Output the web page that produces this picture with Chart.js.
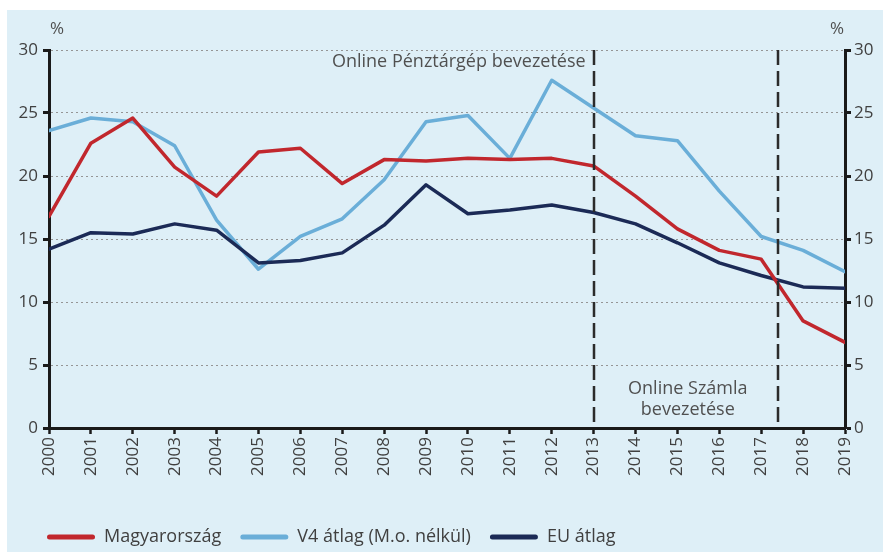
<!DOCTYPE html>
<html>
<head>
<meta charset="utf-8">
<script src="https://cdn.jsdelivr.net/npm/chart.js@4/dist/chart.umd.min.js"></script>
<style>
  html, body { margin: 0; padding: 0; background: #ffffff; }
  #panel { position: absolute; left: 7px; top: 10px; width: 876px; height: 542px; background: #deeff7; }
  #c { display: block; }
</style>
</head>
<body>
<div id="panel"><canvas id="c" width="876" height="542"></canvas></div>
<script>
const years = [2000,2001,2002,2003,2004,2005,2006,2007,2008,2009,2010,2011,2012,2013,2014,2015,2016,2017,2018,2019];
const magyarorszag = [16.8,22.6,24.6,20.7,18.4,21.9,22.2,19.4,21.3,21.2,21.4,21.3,21.4,20.8,18.4,15.8,14.1,13.4,8.5,6.8];
const v4Atlag = [23.6,24.6,24.3,22.4,16.5,12.6,15.2,16.6,19.7,24.3,24.8,21.4,27.6,25.4,23.2,22.8,18.8,15.2,14.1,12.4];
const euAtlag = [14.2,15.5,15.4,16.2,15.7,13.1,13.3,13.9,16.1,19.3,17.0,17.3,17.7,17.1,16.2,14.7,13.1,12.1,11.2,11.1];
const seriesNames = ['Magyarország','V4 átlag (M.o. nélkül)','EU átlag'];
const yTicks = [0,5,10,15,20,25,30];
const eventYears = [2013, 2017.4];
const eventLabels = ['Online Pénztárgép bevezetése', ['Online Számla', 'bevezetése']];

const colors = ['#c1272d', '#6aaed8', '#1b2a56'];
const toPts = arr => arr.map((v, i) => ({x: years[i], y: v}));

const legendShift = {
  id: 'legendShift',
  afterLayout(chart) {
    if (chart.legend) { chart.legend.left += 21; }
  }
};

const annot = {
  id: 'annot',
  afterDatasetsDraw(chart) {
    const {ctx, chartArea: a, scales: {x}} = chart;
    ctx.save();
    ctx.strokeStyle = '#2b2b2b';
    ctx.lineWidth = 2.5;
    ctx.setLineDash([15, 6]);
    eventYears.forEach(yr => {
      const px = Math.round(x.getPixelForValue(yr));
      ctx.beginPath();
      ctx.moveTo(px, a.top);
      ctx.lineTo(px, a.bottom);
      ctx.stroke();
    });
    ctx.setLineDash([]);
    ctx.fillStyle = '#505050';
    ctx.font = "18px 'Open Sans', sans-serif";
    ctx.textBaseline = 'middle';
    const x1 = x.getPixelForValue(eventYears[0]);
    const x2 = x.getPixelForValue(eventYears[1]);
    ctx.textAlign = 'right';
    ctx.fillText(eventLabels[0], x1 - 8, a.top + 12);
    ctx.textAlign = 'center';
    ctx.fillText(eventLabels[1][0], (x1 + x2) / 2 + 2, a.bottom - 39);
    ctx.fillText(eventLabels[1][1], (x1 + x2) / 2 + 2, a.bottom - 18);
    ctx.font = "17px 'Open Sans', sans-serif";
    ctx.fillText('%', a.left + 8, a.top - 21);
    ctx.fillText('%', a.right - 8, a.top - 21);
    ctx.restore();
  }
};

new Chart(document.getElementById('c'), {
  type: 'line',
  data: {
    datasets: [
      {label: seriesNames[0], data: toPts(magyarorszag), borderColor: colors[0], backgroundColor: colors[0], order: 1},
      {label: seriesNames[1], data: toPts(v4Atlag), borderColor: colors[1], backgroundColor: colors[1], order: 3},
      {label: seriesNames[2], data: toPts(euAtlag), borderColor: colors[2], backgroundColor: colors[2], order: 2}
    ]
  },
  options: {
    responsive: false,
    animation: false,
    elements: {
      line: {borderWidth: 3.5, tension: 0, borderCapStyle: 'round', borderJoinStyle: 'round'},
      point: {radius: 0, hoverRadius: 0}
    },
    layout: {padding: {top: 40, left: 0, right: 0, bottom: -4}},
    plugins: {
      tooltip: {enabled: false},
      legend: {
        position: 'bottom',
        align: 'start',
        labels: {
          color: '#404040',
          font: {family: "'Open Sans', sans-serif", size: 18},
          boxWidth: 48,
          boxHeight: 5,
          padding: 19,
          useBorderRadius: true,
          borderRadius: 2.5,
          generateLabels(chart) {
            const items = Chart.defaults.plugins.legend.labels.generateLabels(chart);
            items.forEach(it => { it.lineWidth = 0; });
            items.sort((p, q) => p.datasetIndex - q.datasetIndex);
            return items;
          }
        }
      }
    },
    scales: {
      x: {
        type: 'linear',
        min: 2000,
        max: 2019,
        afterFit(s) { s.height = 81; },
        afterBuildTicks(s) { s.ticks = years.map(v => ({value: v})); },
        ticks: {
          color: '#404040',
          font: {family: "'Open Sans', sans-serif", size: 17},
          minRotation: 90,
          maxRotation: 90,
          padding: 3,
          autoSkip: false,
          callback: v => String(v)
        },
        grid: {display: true, drawOnChartArea: false, drawTicks: true, tickLength: 6, tickWidth: 2.5, tickColor: '#1a1a1a'},
        border: {display: true, color: '#1a1a1a', width: 3}
      },
      y: {
        position: 'left',
        min: 0,
        max: 30,
        afterFit(s) { s.width = 42; },
        afterBuildTicks(s) { s.ticks = yTicks.map(v => ({value: v})); },
        ticks: {color: '#404040', font: {family: "'Open Sans', sans-serif", size: 17}, padding: 5},
        grid: {
          display: true,
          drawOnChartArea: true,
          color: ctx => (ctx.tick && ctx.tick.value === 0) ? 'rgba(0,0,0,0)' : '#959595',
          lineWidth: 1,
          tickLength: 6,
          tickWidth: 3,
          tickColor: '#1a1a1a'
        },
        border: {display: true, color: '#1a1a1a', width: 3, dash: [2, 3]}
      },
      y2: {
        position: 'right',
        min: 0,
        max: 30,
        afterFit(s) { s.width = 38; },
        afterBuildTicks(s) { s.ticks = yTicks.map(v => ({value: v})); },
        ticks: {color: '#404040', font: {family: "'Open Sans', sans-serif", size: 17}, padding: 3},
        grid: {display: true, drawOnChartArea: false, tickLength: 6, tickWidth: 3, tickColor: '#1a1a1a'},
        border: {display: true, color: '#1a1a1a', width: 3}
      }
    }
  },
  plugins: [annot, legendShift]
});
</script>
</body>
</html>
